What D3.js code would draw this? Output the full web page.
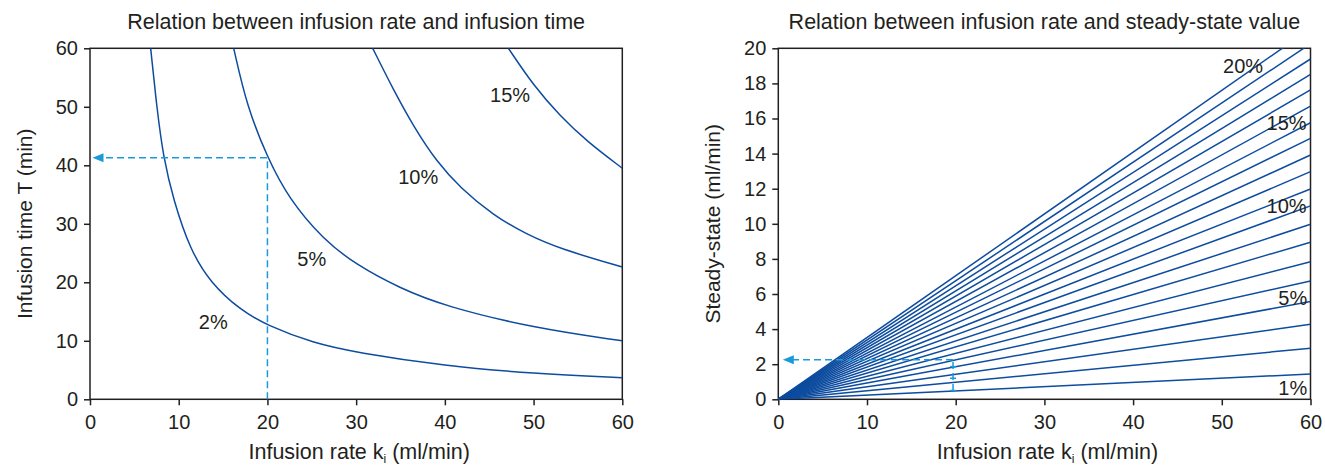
<!DOCTYPE html>
<html>
<head>
<meta charset="utf-8">
<script src="https://cdnjs.cloudflare.com/ajax/libs/d3/7.8.5/d3.min.js"></script>
<style>
body { margin: 0; background: #fff; }
svg { display: block; font-family: "Liberation Sans", Arial, sans-serif; }
</style>
</head>
<body>
<svg id="chart" width="1325" height="465"></svg>
<script>
// ---- data ----
var rateTicks = [0, 10, 20, 30, 40, 50, 60];
var timeTicks = [0, 10, 20, 30, 40, 50, 60];
var ssTicks = [0, 2, 4, 6, 8, 10, 12, 14, 16, 18, 20];

// left panel: infusion time T (min) against infusion rate ki, [ki, T]
var curve2 = [[6.84, 60], [7.52, 50], [8.27, 41.3], [9.4, 34.1], [11.3, 25.5], [13.6, 19.9], [16.9, 15.3], [20, 12.6], [25.2, 9.6], [30, 8.0], [40, 5.7], [50, 4.4], [60, 3.7]];
var curve5 = [[16.2, 60], [17.7, 50], [20, 41.3], [22.4, 34.3], [26.3, 27.3], [30, 23.0], [34.9, 19.0], [40, 15.9], [50, 12.2], [60, 10.0]];
var curve10 = [[31.87, 60], [34.2, 52.9], [36.6, 46.3], [39.1, 40.6], [41.7, 36.2], [45.5, 31.4], [49.2, 28.2], [53.0, 25.7], [60, 22.6]];
var curve15 = [[47.16, 60], [50, 53.6], [53, 48.4], [56, 44.1], [60, 39.5]];
var timeCurves = [curve2, curve5, curve10, curve15];
var timeLabels = ["2%", "5%", "10%", "15%"];
var timeLabelK = [13.9, 25.0, 37.0, 47.35];
var timeLabelT = [13.2, 24.0, 38.0, 52.0];
var timeGuide = [20, 41.3]; // ki = 20 -> T for 5%

// right panel: steady-state value at ki = 60 for 1% .. 20%
var ssAt60 = [1.44, 2.91, 4.27, 5.57, 6.74, 7.84, 8.95, 9.97, 11.02, 11.98, 12.97, 13.92, 14.87, 15.76, 16.71, 17.63, 18.52, 19.39, 20.26, 21.12];
var ssLabels = ["20%", "15%", "10%", "5%", "1%"];
var ssLabelK = [52.4, 57.3, 57.3, 58.0, 58.0];
var ssLabelV = [19.0, 15.74, 11.0, 5.77, 0.64];
var ssGuide = [19.7, 2.25, 0.47]; // ki, value on 5% line, value on 1% line
var ssMarks = [0.5, 1.2, 1.86];

var ink = "#231f20", blue = "#0d4c9f", cyan = "#1a9ad9";
var svg = d3.select("#chart");
var plotTop = 48.3, plotBottom = 399.3;

function panel(x0, x1, yDomain, yTicks, title, yLabel, id) {
    var x = d3.scaleLinear().domain([0, 60]).range([x0, x1]);
    var y = d3.scaleLinear().domain(yDomain).range([plotBottom, plotTop]);
    var g = svg.append("g");

    g.append("clipPath").attr("id", id)
        .append("rect")
        .attr("x", x0).attr("y", plotTop)
        .attr("width", x1 - x0).attr("height", plotBottom - plotTop);

    var ax = g.append("g")
        .attr("transform", `translate(0,${plotBottom})`)
        .call(d3.axisBottom(x).tickValues(rateTicks).tickSize(6).tickPadding(10).tickSizeOuter(0));
    var ay = g.append("g")
        .attr("transform", `translate(${x0},0)`)
        .call(d3.axisLeft(y).tickValues(yTicks).tickSize(6).tickPadding(6).tickSizeOuter(0));
    [ax, ay].forEach(a => {
        a.select(".domain").remove();
        a.selectAll("line").attr("stroke", ink).attr("stroke-width", 1.5);
        a.selectAll("text").attr("fill", ink).style("font-size", "20px");
    });

    // frame
    g.append("rect")
        .attr("x", x0).attr("y", plotTop)
        .attr("width", x1 - x0).attr("height", plotBottom - plotTop)
        .attr("fill", "none").attr("stroke", ink).attr("stroke-width", 1.5);

    g.append("text")
        .attr("x", (x0 + x1) / 2).attr("y", 29)
        .attr("text-anchor", "middle")
        .attr("fill", ink).style("font-size", "21.5px")
        .text(title);

    var xl = g.append("text")
        .attr("x", (x0 + x1) / 2 + 3).attr("y", 459)
        .attr("text-anchor", "middle")
        .attr("fill", ink).style("font-size", "21.5px");
    xl.append("tspan").text("Infusion rate k");
    xl.append("tspan").attr("dy", 4).style("font-size", "12px").text("i");
    xl.append("tspan").attr("dy", -4).text(" (ml/min)");

    g.append("text")
        .attr("transform", `translate(${x0 - 58},${(plotTop + plotBottom) / 2}) rotate(-90)`)
        .attr("text-anchor", "middle")
        .attr("fill", ink).style("font-size", "21px")
        .text(yLabel);

    return {g: g, x: x, y: y};
}

function arrowLeft(g, xTip, yv) {
    g.append("path")
        .attr("d", `M${xTip},${yv} L${xTip + 11},${yv - 4.5} L${xTip + 11},${yv + 4.5} Z`)
        .attr("fill", cyan);
}

// ---- left panel ----
var L = panel(90, 622.3, [0, 60], timeTicks,
    "Relation between infusion rate and infusion time", "Infusion time T (min)", "clipL");

L.g.append("g").attr("clip-path", "url(#clipL)")
    .selectAll("path")
    .data(timeCurves)
    .join("path")
    .attr("fill", "none")
    .attr("stroke", blue)
    .attr("stroke-width", 1.5)
    .attr("d", d3.line().x(d => L.x(d[0])).y(d => L.y(d[1])).curve(d3.curveBasis));

L.g.selectAll(".lbl")
    .data(timeLabels)
    .join("text")
    .attr("class", "lbl")
    .attr("x", (d, i) => L.x(timeLabelK[i]))
    .attr("y", (d, i) => L.y(timeLabelT[i]))
    .attr("dy", "0.35em")
    .attr("text-anchor", "middle")
    .attr("fill", ink).style("font-size", "20px")
    .text(d => d);

var gx = L.x(timeGuide[0]), gy = L.y(timeGuide[1]);
L.g.append("path")
    .attr("d", `M${gx},${L.y(0)} L${gx},${gy} L${L.x(0) + 12},${gy}`)
    .attr("fill", "none").attr("stroke", cyan).attr("stroke-width", 1.5)
    .attr("stroke-dasharray", "7,4");
arrowLeft(L.g, L.x(0) + 2.5, gy);

// ---- right panel ----
var R = panel(778.3, 1310.5, [0, 20], ssTicks,
    "Relation between infusion rate and steady-state value", "Steady-state (ml/min)", "clipR");

R.g.append("g").attr("clip-path", "url(#clipR)")
    .selectAll("line")
    .data(ssAt60)
    .join("line")
    .attr("x1", R.x(0)).attr("y1", R.y(0))
    .attr("x2", R.x(60)).attr("y2", d => R.y(d))
    .attr("stroke", blue)
    .attr("stroke-width", 1.5);

R.g.selectAll(".lbl")
    .data(ssLabels)
    .join("text")
    .attr("class", "lbl")
    .attr("x", (d, i) => R.x(ssLabelK[i]))
    .attr("y", (d, i) => R.y(ssLabelV[i]))
    .attr("dy", "0.35em")
    .attr("text-anchor", "middle")
    .attr("fill", ink).style("font-size", "20px")
    .text(d => d);

var rx = R.x(ssGuide[0]), ry = R.y(ssGuide[1]);
R.g.append("path")
    .attr("d", `M${rx},${R.y(ssGuide[2])} L${rx},${ry} M${rx},${ry} L${R.x(0) + 14},${ry}`)
    .attr("fill", "none").attr("stroke", cyan).attr("stroke-width", 1.5)
    .attr("stroke-dasharray", "7,4");
R.g.selectAll(".mark")
    .data(ssMarks)
    .join("line")
    .attr("class", "mark")
    .attr("x1", rx - 3).attr("x2", rx + 3)
    .attr("y1", d => R.y(d)).attr("y2", d => R.y(d))
    .attr("stroke", cyan).attr("stroke-width", 1.5);
arrowLeft(R.g, R.x(0) + 4.5, ry);
</script>
</body>
</html>
